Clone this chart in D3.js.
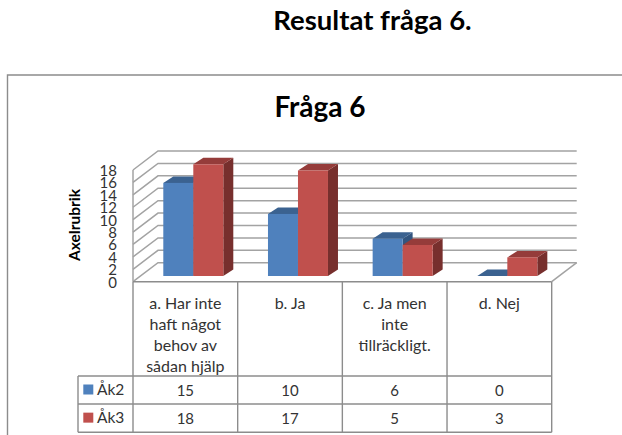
<!DOCTYPE html>
<html><head><meta charset="utf-8">
<script src="https://d3js.org/d3.v7.min.js"></script>
<style>html,body{margin:0;padding:0;background:#fff}svg{display:block}text{font-family:Lato,"Open Sans",sans-serif}</style>
</head><body><div id="c"></div>
<script>
const categories = ["a. Har inte haft något behov av sådan hjälp","b. Ja","c. Ja men inte tillräckligt.","d. Nej"];
const categoryLines = [["a. Har inte","haft något","behov av","sådan hjälp"],["b. Ja"],["c. Ja men","inte","tillräckligt."],["d. Nej"]];
const seriesNames = ["Åk2","Åk3"];
const ak2 = [15,10,6,0];
const ak3 = [18,17,5,3];
const ticks = [0,2,4,6,8,10,12,14,16,18];
const colors = {Åk2:{front:"#4f81bd",top:"#3b6290",side:"#32557f"},Åk3:{front:"#c0504d",top:"#953c3a",side:"#772f2d"}};
const grid = "#a3a3a3";

const W=622,H=435;
const svg=d3.select("#c").append("svg").attr("width",W).attr("height",H);
const x=d3.scaleBand().domain(categories).range([133,551.7]);
const sub=d3.scaleBand().domain(seriesNames).range([30.3,90.3]);
const yFront=d3.scaleLinear().domain([0,18]).range([281.7,170]);
const yBar=d3.scaleLinear().domain([0,18]).range([276,164.3]);
const dxWall=25,dyWall=19,dxBar=10,dyBar=6.5;

svg.append("text").attr("x",372.5).attr("y",29.5).attr("text-anchor","middle").attr("font-weight",700).attr("font-size",27.5).text("Resultat fråga 6.");
// chart frame
svg.append("path").attr("d",`M7.5,${H}V75H${W}`).attr("fill","none").attr("stroke","#8c8c8c").attr("stroke-width",1.4);
svg.append("text").attr("x",320).attr("y",117).attr("text-anchor","middle").attr("font-weight",700).attr("font-size",28).text("Fråga 6");
svg.append("text").attr("transform","translate(80,225) rotate(-90)").attr("text-anchor","middle").attr("font-weight",700).attr("font-size",15.5).text("Axelrubrik");

// walls
const g=svg.append("g").attr("fill","none").attr("stroke",grid).attr("stroke-width",1.5);
const xL=x.range()[0],xR=x.range()[1];
ticks.forEach(t=>{
  const yf=yFront(t);
  g.append("path").attr("d",`M${xL},${yf}L${xL+dxWall},${yf-dyWall}H${xR+dxWall}`);
});
g.append("path").attr("d",`M${xL},${yFront(0)}V${yFront(18)}`);
g.append("path").attr("d",`M${xR},${yFront(0)}L${xR+dxWall},${yFront(0)-dyWall}`);

// y labels
svg.append("g").selectAll("text").data(ticks).join("text")
 .attr("x",117).attr("y",d=>yFront(d)+6).attr("text-anchor","end").attr("font-size",15).attr("fill","#333").text(d=>d);

// bars
const rows=[{name:"Åk2",vals:ak2},{name:"Åk3",vals:ak3}];
rows.forEach(r=>{
  const c=colors[r.name];
  const bw=sub.bandwidth();
  categories.forEach((cat,i)=>{
    const v=r.vals[i];
    const x0=x(cat)+sub(r.name),x1=x0+bw,y0=yBar(0),y1=yBar(v);
    svg.append("path").attr("fill",c.side).attr("d",`M${x1},${y1}L${x1+dxBar},${y1-dyBar}V${y0-dyBar}L${x1},${y0}Z`);
    svg.append("path").attr("fill",c.top).attr("d",`M${x0},${y1}L${x0+dxBar},${y1-dyBar}H${x1+dxBar}L${x1},${y1}Z`);
    svg.append("rect").attr("fill",c.front).attr("x",x0).attr("y",y1).attr("width",bw).attr("height",y0-y1);
  });
});

// data table
const rowY=[281.7,376,404,432.3];
const leftX=78;
const t=svg.append("g").attr("fill","none").attr("stroke","#8c8c8c").attr("stroke-width",1.4);
t.append("path").attr("d",`M${xL},${rowY[0]}H${xR}`);
[...categories.map(c=>x(c)),xR].forEach(px=>t.append("path").attr("d",`M${px},${rowY[0]}V${rowY[3]}`));
rowY.slice(1).forEach(py=>t.append("path").attr("d",`M${leftX},${py}H${xR}`));
t.append("path").attr("d",`M${leftX},${rowY[1]}V${rowY[3]}`);

categories.forEach((cat,i)=>{
  categoryLines[i].forEach((ln,j)=>{
    svg.append("text").attr("x",x(cat)+x.bandwidth()/2).attr("y",308.5+j*21).attr("text-anchor","middle").attr("font-size",16).attr("fill","#333").text(ln);
  });
});
rows.forEach((r,k)=>{
  const yc=(rowY[k+1]+rowY[k+2])/2;
  svg.append("rect").attr("x",83.3).attr("y",yc-5.5).attr("width",10).attr("height",10).attr("fill",colors[r.name].front);
  svg.append("text").attr("x",97).attr("y",yc+4.5).attr("font-size",15.5).attr("fill","#333").text(r.name);
  categories.forEach((cat,i)=>{
    svg.append("text").attr("x",x(cat)+x.bandwidth()/2).attr("y",yc+5.5).attr("text-anchor","middle").attr("font-size",15).attr("fill","#333").text(r.vals[i]);
  });
});
</script></body></html>
